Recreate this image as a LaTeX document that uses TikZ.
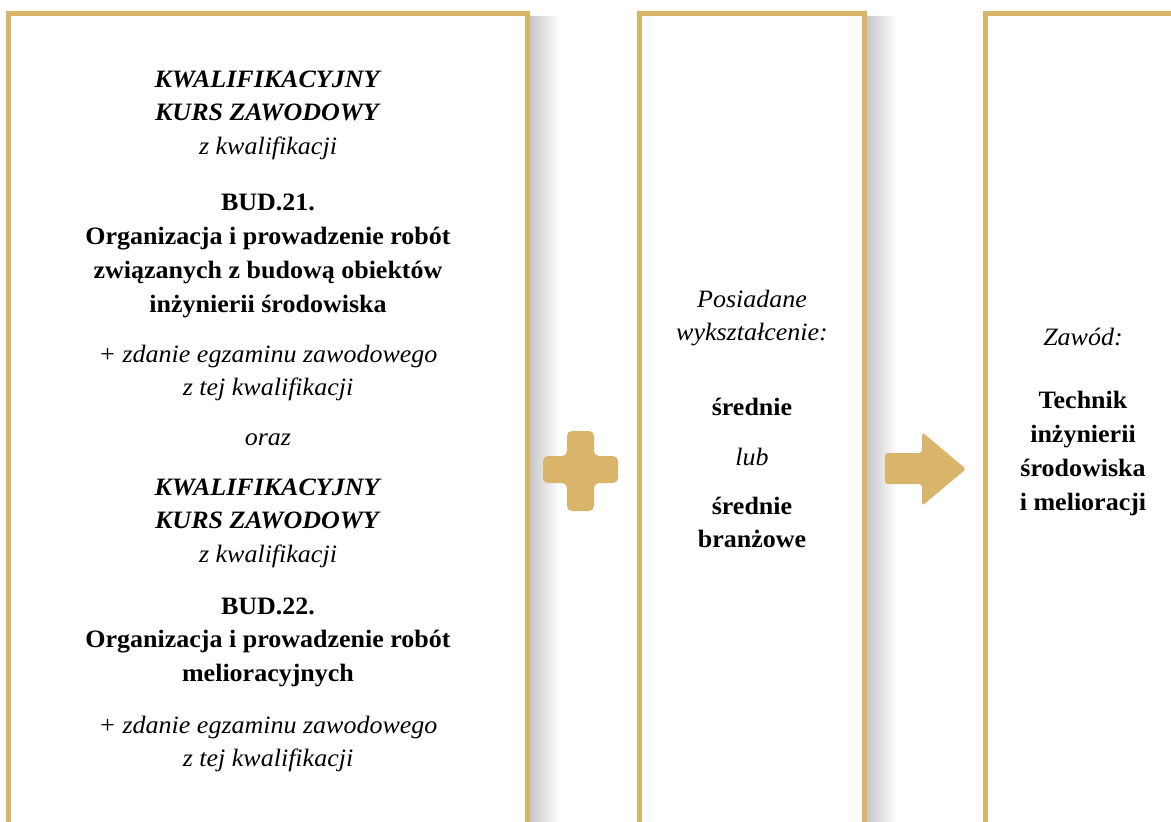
\documentclass[tikz,border=0pt]{standalone}
\usepackage{fontspec}
\setmainfont[FakeStretch=1.04]{Liberation Serif}
\definecolor{gold}{RGB}{216,181,106}
\begin{document}
\begin{tikzpicture}[x=1pt,y=-1pt,
  panel/.style={draw=gold, line width=5pt, fill=white, outer sep=0pt, inner sep=0pt, anchor=north west},
  txt/.style={align=center, font=\fontsize{25}{33.7}\selectfont, inner sep=0pt, anchor=base},
  shadowstrip/.style={left color=black!22, right color=white, draw=none}
]
\useasboundingbox (0,0) rectangle (1171,822);
\clip (0,0) rectangle (1171,822);
\fill[white] (0,0) rectangle (1171,822);
% shadows
\shade[shadowstrip] (530,16) rectangle (560,830);
\shade[shadowstrip] (867,16) rectangle (897,830);
% panels
\node[panel, minimum width=519pt, minimum height=900pt] (b1) at (8.5,13.5) {};
\node[panel, minimum width=225pt, minimum height=900pt] (b2) at (639.5,13.5) {};
\node[panel, minimum width=230pt, minimum height=900pt] (b3) at (985.5,13.5) {};
% plus sign
\fill[gold, rounded corners=5pt] (567,431) -- (594,431) -- (594,456) -- (618,456) -- (618,483) -- (594,483) -- (594,511) -- (567,511) -- (567,483) -- (543,483) -- (543,456) -- (567,456) -- cycle;
% arrow
\fill[gold, rounded corners=3pt] (885,453) -- (922,453) -- (922,432) -- (966,469) -- (922,506) -- (922,484) -- (885,484) -- cycle;
% box 1 text (anchor = baseline of the last line)
\node[txt] (t1) at (268,154.4) {\textbf{\textit{KWALIFIKACYJNY}}\\\textbf{\textit{KURS ZAWODOWY}}\\\textit{z kwalifikacji}};
\node[txt] (t2) at (268,312) {\textbf{BUD.21.}\\\textbf{Organizacja i prowadzenie robót}\\\textbf{związanych z budową obiektów}\\\textbf{inżynierii środowiska}};
\node[txt] (t3) at (268,395.7) {\textit{+ zdanie egzaminu zawodowego}\\\textit{z tej kwalifikacji}};
\node[txt] (t4) at (268,445) {\textit{oraz}};
\node[txt] (t5) at (268,562.4) {\textbf{\textit{KWALIFIKACYJNY}}\\\textbf{\textit{KURS ZAWODOWY}}\\\textit{z kwalifikacji}};
\node[txt] (t6) at (268,681.4) {\textbf{BUD.22.}\\\textbf{Organizacja i prowadzenie robót}\\\textbf{melioracyjnych}};
\node[txt] (t7) at (268,766.7) {\textit{+ zdanie egzaminu zawodowego}\\\textit{z tej kwalifikacji}};
% box 2 text
\node[txt] (u1) at (752,340.7) {\textit{Posiadane}\\\textit{wykształcenie:}};
\node[txt] (u2) at (752,415) {\textbf{średnie}};
\node[txt] (u3) at (752,465) {\textit{lub}};
\node[txt] (u4) at (752,547.7) {\textbf{średnie}\\\textbf{branżowe}};
% box 3 text
\node[txt] (v1) at (1083,345) {\textit{Zawód:}};
\node[txt] (v2) at (1083,510) {\textbf{Technik}\\\textbf{inżynierii}\\\textbf{środowiska}\\\textbf{i melioracji}};
\end{tikzpicture}
\end{document}
